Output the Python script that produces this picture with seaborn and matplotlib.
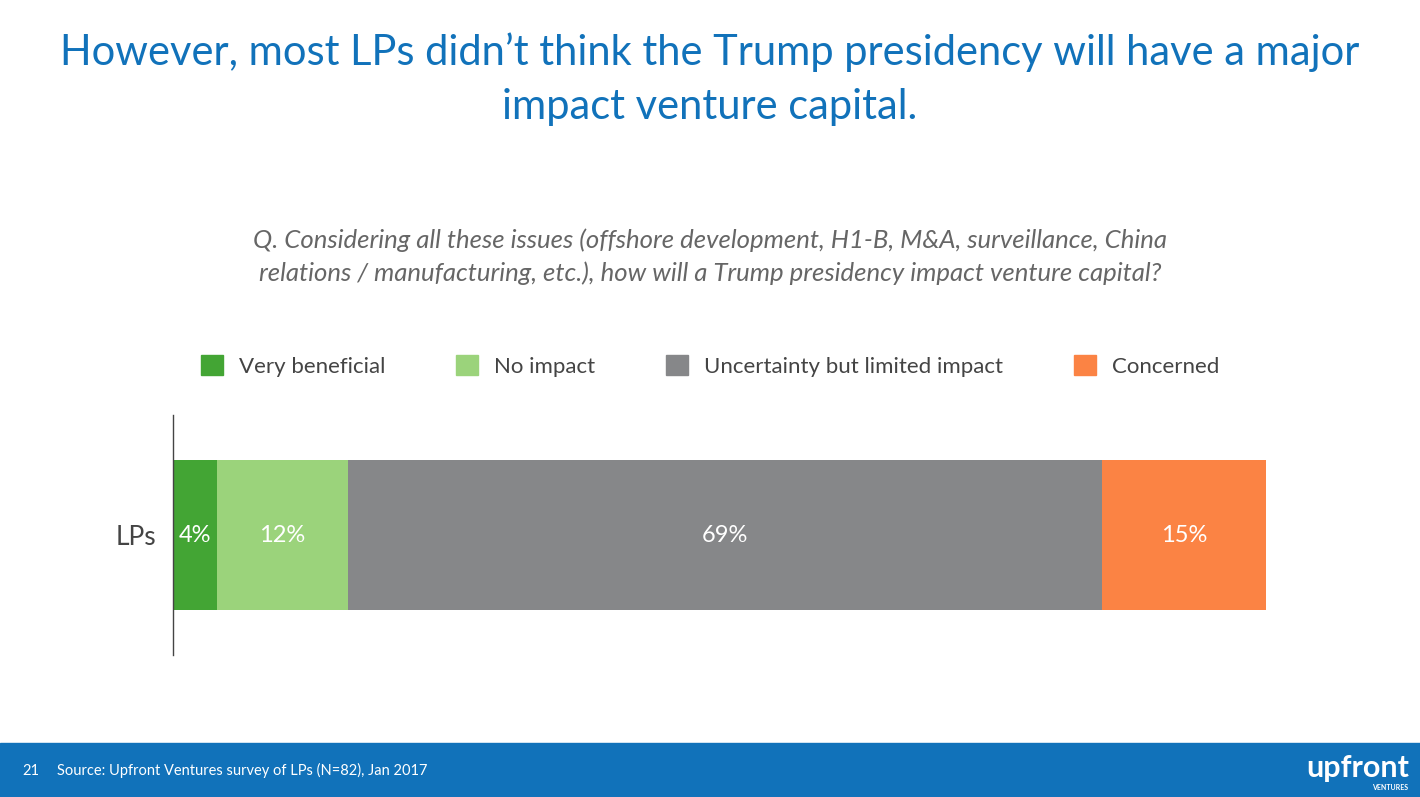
#!/usr/bin/env python3
import matplotlib
matplotlib.use('Agg')
import matplotlib.pyplot as plt
from matplotlib.patches import Rectangle
import pandas as pd
import seaborn as sns

CATEGORIES = ['Very beneficial', 'No impact', 'Uncertainty but limited impact', 'Concerned']
VALUES = [4, 12, 69, 15]
COLORS = ['#43A534', '#9BD37B', '#868789', '#FB8344']
GROUP = 'LPs'

BLUE = '#1172BA'

sns.set_theme(style='white')
plt.rcParams['font.family'] = ['Lato', 'DejaVu Sans']

fig = plt.figure(figsize=(14.2, 7.97), dpi=100)
ax = fig.add_axes([0.1218, 0.178, 0.7697, 0.301])

# cumulative ends, drawn from the longest so earlier segments sit on top
cum = pd.Series(VALUES).cumsum().tolist()
for i in reversed(range(len(VALUES))):
    df = pd.DataFrame({'group': [GROUP], 'end': [cum[i]]})
    sns.barplot(data=df, x='end', y='group', color=COLORS[i], width=0.625,
                saturation=1, ax=ax, orient='h', linewidth=0)

starts = [c - v for c, v in zip(cum, VALUES)]
for s, v in zip(starts, VALUES):
    ax.text(s + v / 2, 0, f'{v}%', ha='center', va='center', color='white', fontsize=17)

ax.set_xlim(0, 100)
ax.set_ylim(0.5, -0.5)
ax.set_xlabel('')
ax.set_ylabel('')
ax.set_xticks([])
ax.tick_params(axis='y', labelsize=19, colors='#444444', pad=12, length=0)
for side in ('top', 'right', 'bottom'):
    ax.spines[side].set_visible(False)
ax.spines['left'].set_color('#444444')
ax.spines['left'].set_linewidth(1)

# legend
handles = [Rectangle((0, 0), 1, 1, color=c) for c in COLORS]
fig.legend(handles, CATEGORIES, loc='center', bbox_to_anchor=(0.5, 0.541), ncol=4,
           frameon=False, fontsize=16, handlelength=1.0, handleheight=1.0,
           columnspacing=3.2, handletextpad=0.7, labelcolor='#444444')

fig.text(0.5, 0.935, 'However, most LPs didn\u2019t think the Trump presidency will have a major',
         ha='center', va='center', fontsize=30, color=BLUE)
fig.text(0.5, 0.866, 'impact venture capital.', ha='center', va='center', fontsize=30, color=BLUE)

fig.text(0.5, 0.699, 'Q. Considering all these issues (offshore development, H1-B, M&A, surveillance, China',
         ha='center', va='center', fontsize=18.5, color='#666666', style='italic')
fig.text(0.5, 0.657, 'relations / manufacturing, etc.), how will a Trump presidency impact venture capital?',
         ha='center', va='center', fontsize=18.5, color='#666666', style='italic')

# footer band
fig.patches.append(Rectangle((0, 0), 1, 54 / 797, transform=fig.transFigure,
                             color=BLUE, zorder=0))
fig.text(0.016, 0.033, '21', ha='left', va='center', fontsize=10.5, color='white')
fig.text(0.04, 0.033, 'Source: Upfront Ventures survey of LPs (N=82), Jan 2017',
         ha='left', va='center', fontsize=10.5, color='white')
fig.text(0.992, 0.036, 'upfront', ha='right', va='center', fontsize=22,
         fontweight='bold', color='white')
fig.text(0.992, 0.012, 'VENTURES', ha='right', va='center', fontsize=5,
         fontweight='bold', color='white')

fig.savefig('out.png', dpi=100)
